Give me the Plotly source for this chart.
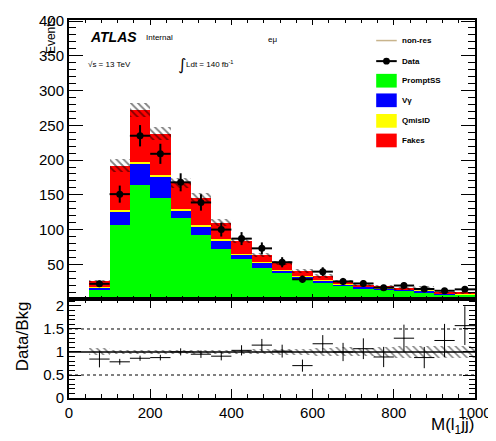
import plotly.graph_objects as go
import numpy as np

# ---- data ----
bin_lo = [0, 50, 100, 150, 200, 250, 300, 350, 400, 450, 500, 550, 600, 650, 700, 750, 800, 850, 900, 950]
bin_width = 50
prompt_ss = [0, 14, 106, 164, 146, 116, 92, 72.5, 57, 45, 37, 27.8, 23, 19.3, 15.5, 13.7, 12.2, 10, 7, 6.6]
v_gamma = [0, 2, 20, 30, 29.5, 11.5, 13, 11.5, 7, 7, 4, 4.7, 4, 2.3, 2, 1.8, 1.3, 2.3, 1, 0.6]
qmis_id = [0, 1, 2, 3, 3.5, 2, 2, 2, 1.4, 2, 0.5, 0.5, 0.5, 0.4, 0.5, 0.5, 0.5, 0.3, 0.3, 0.3]
fakes = [0, 9, 64, 75, 59, 38, 39, 24, 18.6, 9.5, 10.5, 7.5, 6, 3.4, 3, 2.4, 1, 3.9, 1.3, 1.4]
data = [0, 22, 151, 235, 209, 168, 139, 100, 87, 73, 53, 28.5, 39.5, 25.4, 22.5, 16.4, 19.5, 14.5, 12, 14]
bkg_unc = [0, 2, 9, 10, 9, 7, 6, 5, 4, 3.5, 3, 3, 3, 2.5, 2, 2, 2, 2, 1.2, 1.2]

main_yticks = [50, 100, 150, 200, 250, 300, 350, 400]
ratio_yticks = [0, 0.5, 1, 1.5, 2]
x_ticks = [0, 200, 400, 600, 800, 1000]

# ---- derived ----
centers = np.array(bin_lo) + bin_width / 2
g = np.array(prompt_ss); b = np.array(v_gamma); q = np.array(qmis_id); f = np.array(fakes)
total = g + b + q + f
d = np.array(data, dtype=float)
unc = np.array(bkg_unc, dtype=float)
has = total > 0
hd = d > 0

FONT = "Liberation Sans"
# page body has an 8px margin; figure sized so the plot area lands at window px 69..484 / 12..398
OFF = 8
L, R, T, B = 69 - OFF, 12, 12 - OFF, 43
W, H = 496 - OFF, 441 - OFF
PW, PH = W - L - R, H - T - B
def X(px): return (px - OFF - L) / PW          # px in window coords
def Y(py): return (H - B - (py - OFF)) / PH    # py in window coords
split = Y(297)

fig = go.Figure()
comps = [(g, 0, "#00ff00"), (b, g, "#0000ff"), (q, g + b, "#ffff00"), (f, g + b + q, "#ff0000")]
for vals, base, col in comps:
    fig.add_trace(go.Bar(x=centers, y=vals, base=base, width=bin_width, marker=dict(color=col, line=dict(width=0)),
                         xaxis="x", yaxis="y", showlegend=False, hoverinfo="skip"))
# hatched uncertainty band (main)
fig.add_trace(go.Bar(x=centers[has], y=2 * unc[has], base=total[has] - unc[has], width=bin_width,
                     marker=dict(color="rgba(0,0,0,0)", line=dict(width=0),
                                 pattern=dict(shape="\\", fgcolor="black", bgcolor="rgba(0,0,0,0)", size=5, solidity=0.35, fillmode="overlay")),
                     xaxis="x", yaxis="y", showlegend=False))
# data points
fig.add_trace(go.Scatter(x=centers[hd], y=d[hd], mode="markers",
                         marker=dict(color="black", size=7),
                         error_y=dict(type="data", array=np.sqrt(d[hd]), color="black", thickness=2, width=0),
                         error_x=dict(type="constant", value=bin_width / 2, color="black", thickness=2, width=0),
                         xaxis="x", yaxis="y", showlegend=False))

# ratio
rel = unc[has] / total[has]
fig.add_trace(go.Bar(x=centers[has], y=2 * rel, base=1 - rel, width=bin_width,
                     marker=dict(color="rgba(0,0,0,0)", line=dict(width=0),
                                 pattern=dict(shape="\\", fgcolor="black", bgcolor="rgba(0,0,0,0)", size=5, solidity=0.3, fillmode="overlay")),
                     xaxis="x2", yaxis="y2", showlegend=False))
sel = has & hd
ratio = d[sel] / total[sel]
ratio_err = np.sqrt(d[sel]) / total[sel]
fig.add_trace(go.Scatter(x=centers[sel], y=ratio, mode="markers", marker=dict(color="black", size=1),
                         error_y=dict(type="data", array=ratio_err, color="black", thickness=1, width=0),
                         error_x=dict(type="constant", value=bin_width / 2, color="black", thickness=1, width=0),
                         xaxis="x2", yaxis="y2", showlegend=False))

shapes = []
shapes.append(dict(type="line", xref="x2", yref="y2", x0=0, x1=1000, y0=1, y1=1, line=dict(color="black", width=1.5)))
for yv in (0.5, 1.5):
    shapes.append(dict(type="line", xref="x2", yref="y2", x0=0, x1=1000, y0=yv, y1=yv, line=dict(color="black", width=1, dash="3px,3px")))

# legend (manual)
rows = [33, 54, 74, 94, 115, 135]
labels = ["non-res", "Data", "PromptSS", "Vγ", "QmisID", "Fakes"]
shapes.append(dict(type="line", xref="paper", yref="paper", x0=X(383), x1=X(404), y0=Y(33), y1=Y(33), line=dict(color="#c8b48c", width=1.5)))
shapes.append(dict(type="line", xref="paper", yref="paper", x0=X(383), x1=X(404), y0=Y(54), y1=Y(54), line=dict(color="black", width=2)))
shapes.append(dict(type="circle", xref="paper", yref="paper", x0=X(390), x1=X(397), y0=Y(57.5), y1=Y(50.5), fillcolor="black", line=dict(color="black", width=0)))
for ry, col in zip(rows[2:], ["#00ff00", "#0000ff", "#ffff00", "#ff0000"]):
    shapes.append(dict(type="rect", xref="paper", yref="paper", x0=X(383), x1=X(404), y0=Y(ry + 7), y1=Y(ry - 7), fillcolor=col, line=dict(width=0)))

ann = []
for ry, lab in zip(rows, labels):
    ann.append(dict(text="<b>%s</b>" % lab, x=X(407), y=Y(ry), xanchor="left", yanchor="middle",
                    font=dict(family=FONT, size=8, color="black")))
ann += [
    dict(text="<b><i>ATLAS</i></b>", x=X(88), y=Y(29), xanchor="left", yanchor="middle", font=dict(family=FONT, size=14, color="black")),
    dict(text="Internal", x=X(146), y=Y(30), xanchor="left", yanchor="middle", font=dict(family=FONT, size=8, color="black")),
    dict(text="√s = 13 TeV", x=X(86), y=Y(57), xanchor="left", yanchor="middle", font=dict(family=FONT, size=8, color="black")),
    dict(text="∫", x=X(178), y=Y(57), xanchor="left", yanchor="middle", font=dict(family="DejaVu Sans", size=16, color="black")),
    dict(text="Ldt = 140 fb<sup>-1</sup>", x=X(187), y=Y(57), xanchor="left", yanchor="middle", font=dict(family=FONT, size=8, color="black")),
    dict(text="eμ", x=X(270), y=Y(32), xanchor="left", yanchor="middle", font=dict(family=FONT, size=8, color="black")),
    dict(text="Events", x=X(50), y=Y(28), textangle=-90, xanchor="center", yanchor="middle", font=dict(family=FONT, size=12, color="black")),
    dict(text="Data/Bkg", x=X(21), y=Y(335), textangle=-90, xanchor="center", yanchor="middle", font=dict(family=FONT, size=17, color="black")),
    dict(text="M(l<sub>1</sub>jj)", x=X(485), y=Y(427), xanchor="right", yanchor="middle", font=dict(family=FONT, size=17, color="black")),
]
for a in ann:
    a.setdefault("xref", "paper"); a.setdefault("yref", "paper"); a["showarrow"] = False

axcommon = dict(showline=True, linecolor="black", linewidth=2, mirror="ticks", ticks="inside", tickcolor="black",
                showgrid=False, zeroline=False, ticklabeloverflow="allow",
                tickfont=dict(family=FONT, size=15, color="black"))
fig.update_layout(
    width=W, height=H, margin=dict(l=L, r=R, t=T, b=B, pad=0),
    paper_bgcolor="white", plot_bgcolor="white", barmode="overlay", bargap=0,
    showlegend=False, shapes=shapes, annotations=ann,
    xaxis=dict(**axcommon, domain=[0, 1], range=[0, 1000], matches="x2", anchor="y", showticklabels=False,
               tickvals=x_ticks, ticklen=5, minor=dict(dtick=40, ticklen=3, ticks="inside", tickcolor="black")),
    yaxis=dict(**axcommon, domain=[split, 1], range=[0, 401.5], anchor="x", tickvals=main_yticks,
               ticktext=[str(v) for v in main_yticks], ticklen=14,
               minor=dict(dtick=10, ticklen=7, ticks="inside", tickcolor="black")),
    xaxis2=dict(**axcommon, domain=[0, 1], range=[0, 1000], anchor="y2", tickvals=x_ticks,
                ticktext=[str(v) for v in x_ticks], ticklen=9,
                minor=dict(dtick=40, ticklen=4, ticks="inside", tickcolor="black")),
    yaxis2=dict(**axcommon, domain=[0, split], range=[0, 2.15], anchor="x2", tickvals=ratio_yticks,
                ticktext=["0", "0.5", "1", "1.5", "2"], ticklen=12,
                minor=dict(dtick=0.1, ticklen=6, ticks="inside", tickcolor="black")),
)
fig.write_html("out.html")
